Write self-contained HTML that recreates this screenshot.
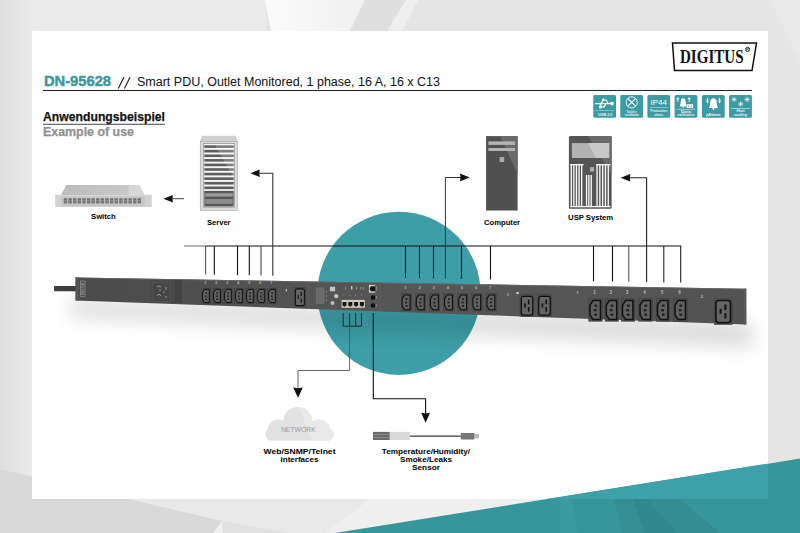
<!DOCTYPE html>
<html><head><meta charset="utf-8">
<style>
html,body{margin:0;padding:0;width:800px;height:533px;overflow:hidden;background:#e6e6e6;}
svg{display:block;position:absolute;left:0;top:0;}
.s{font-family:"Liberation Sans",sans-serif;}
.b{font-family:"Liberation Sans",sans-serif;font-weight:bold;}
.sf{font-family:"Liberation Serif",serif;font-weight:bold;}
</style></head>
<body>
<svg width="800" height="533" viewBox="0 0 800 533">
<defs>
  <linearGradient id="lg" x1="0" x2="1" y1="0" y2="0">
    <stop offset="0" stop-color="#dfdfdf"/>
    <stop offset="0.55" stop-color="#eaeaea"/>
    <stop offset="1" stop-color="#ebebeb" stop-opacity="0"/>
  </linearGradient>
  <linearGradient id="circ" x1="0" x2="0" y1="0" y2="1">
    <stop offset="0" stop-color="#3b9ca4"/>
    <stop offset="0.55" stop-color="#3b9ca4"/>
    <stop offset="0.62" stop-color="#348c94"/>
    <stop offset="1" stop-color="#40a3ab"/>
  </linearGradient>
  <linearGradient id="swtop" x1="0" x2="1" y1="0" y2="0">
    <stop offset="0" stop-color="#bcbcbc"/>
    <stop offset="0.8" stop-color="#c8c8c8"/>
    <stop offset="0.81" stop-color="#d6d6d6"/>
    <stop offset="1" stop-color="#d9d9d9"/>
  </linearGradient>
  <linearGradient id="wf" x1="0" x2="1" y1="0" y2="0">
    <stop offset="0" stop-color="#fbfbfb"/>
    <stop offset="1" stop-color="#f0f0f0"/>
  </linearGradient>
  <linearGradient id="pdug" gradientUnits="userSpaceOnUse" x1="75" y1="0" x2="746" y2="0">
    <stop offset="0" stop-color="#4a4a4a"/>
    <stop offset="0.2" stop-color="#505050"/>
    <stop offset="0.5" stop-color="#575757"/>
    <stop offset="1" stop-color="#535353"/>
  </linearGradient>
  <filter id="blur" x="-20%" y="-200%" width="140%" height="500%"><feGaussianBlur stdDeviation="10"/></filter>
  <filter id="blur2" x="-20%" y="-200%" width="140%" height="500%"><feGaussianBlur stdDeviation="2.5"/></filter>
</defs>

<rect x="0" y="0" width="800" height="533" fill="#e5e5e5"/>
<rect x="0" y="0" width="266" height="533" fill="#ebebeb"/>
<rect x="0" y="0" width="60" height="533" fill="url(#lg)"/>
<polygon points="265,0 365,0 350,31 271,31" fill="url(#wf)"/>
<polygon points="365,0 406,0 387,31 350,31" fill="#dfdfdf"/>
<polygon points="406,0 418,0 402,31 387,31" fill="#efefef"/>
<polygon points="770,0 800,0 800,62" fill="#e9e9e9"/>
<polygon points="0,469 0,533 800,533 800,499 130,499" fill="#e9e9e9"/>
<polygon points="370,499 800,499 800,533 325,533" fill="#efefef"/>
<polygon points="0,469 222,521 213.5,533 0,533" fill="#d9d9d9"/>
<polygon points="222,521 290,533 222.5,533" fill="#e1e1e1"/>
<polygon points="222,521 222.5,533 213.5,533" fill="#f0f0f0"/>
<rect x="32" y="31" width="736" height="468" fill="#ffffff"/>
<polygon points="335,533 800,458.6 800,533" fill="#36969c"/>
<polygon points="547.5,499 768,463.7 768,499" fill="#3ea1a9"/>
<polygon points="613.75,499 632.5,499 645,533 622.5,533" fill="#348f95"/>
<polygon points="632.5,499 647.5,499 677.5,533 645,533" fill="#30878d"/>
<polygon points="647.5,499 680,499 720,533 677.5,533" fill="#338d93"/>
<polygon points="560,499 571.25,499 577.5,533 560,533" fill="#3a9ba1"/>

<text class="b" x="44" y="86" font-size="14.5" fill="#3a98a1" stroke="#3a98a1" stroke-width="0.45" textLength="67" lengthAdjust="spacingAndGlyphs">DN-95628</text>
<g stroke="#111" stroke-width="1.05"><line x1="118.3" y1="88.6" x2="123.9" y2="77.3"/><line x1="124.4" y1="88.6" x2="130" y2="77.3"/></g>
<text class="s" x="137" y="86" font-size="12.5" fill="#111" textLength="303" lengthAdjust="spacingAndGlyphs">Smart PDU, Outlet Monitored, 1 phase, 16 A, 16 x C13</text>
<rect x="43" y="90" width="709" height="1" fill="#222"/>
<text class="b" x="43" y="120.5" font-size="13.5" fill="#111" stroke="#111" stroke-width="0.25" textLength="122" lengthAdjust="spacingAndGlyphs">Anwendungsbeispiel</text>
<rect x="43" y="123.8" width="122" height="0.9" fill="#333"/>
<text class="b" x="43" y="136" font-size="13.5" fill="#909090" stroke="#909090" stroke-width="0.25" textLength="91" lengthAdjust="spacingAndGlyphs">Example of use</text>

<polygon points="672.5,43 756.5,43 752,70.5 674.5,70.5" fill="#fff" stroke="#111" stroke-width="1.5"/>
<text class="sf" x="680" y="63" font-size="18.5" fill="#111" textLength="63.5" lengthAdjust="spacingAndGlyphs">DIGITUS</text>
<circle cx="747.6" cy="49.4" r="2.1" fill="#fff" stroke="#111" stroke-width="0.8"/><path d="M746.8,50.7 v-2.6 h1 q0.8,0 0.8,0.7 q0,0.6 -0.8,0.6 h-0.2 l1,1.3" fill="none" stroke="#111" stroke-width="0.6"/>

<g fill="#3b9ba2">
<rect x="593.3" y="95.1" width="22.8" height="22.6" rx="1.5"/>
<rect x="620.3" y="95.1" width="22.8" height="22.6" rx="1.5"/>
<rect x="647.4" y="95.1" width="22.8" height="22.6" rx="1.5"/>
<rect x="674.6" y="95.1" width="22.8" height="22.6" rx="1.5"/>
<rect x="701.9" y="95.1" width="22.8" height="22.6" rx="1.5"/>
<rect x="729.1" y="95.1" width="22.8" height="22.6" rx="1.5"/>
</g>
<g stroke="#fff" fill="none" stroke-width="1.3">
<line x1="595.0999999999999" y1="103.6" x2="611.3" y2="103.6"/>
<polyline points="600.8,103.6 603.0999999999999,100.2 606.3,100.2 608.3,103.6"/>
<polyline points="599.8,103.6 601.8,106.8 604.3,106.8 605.8,103.6"/>
</g>
<circle cx="612.0999999999999" cy="103.6" r="1.9" fill="#fff"/>
<circle cx="603.3" cy="99.7" r="1.2" fill="#fff"/>
<rect x="599.0999999999999" y="105.8" width="2.6" height="2.6" fill="#fff"/>
<rect x="595.3" y="110" width="19" height="0.5" fill="#bfe0e2"/>
<text class="b" x="605.3" y="115.6" font-size="4.2" fill="#e8f4f5" text-anchor="middle" textLength="14" lengthAdjust="spacingAndGlyphs">USB 2.0</text>

<circle cx="631.6999999999999" cy="102.4" r="5.6" fill="none" stroke="#fff" stroke-width="0.9"/>
<line x1="627.9" y1="98.6" x2="635.5" y2="106.2" stroke="#fff" stroke-width="1.1"/>
<line x1="635.5" y1="98.6" x2="627.9" y2="106.2" stroke="#fff" stroke-width="1.1"/>
<text class="b" x="631.6999999999999" y="112.6" font-size="3.2" fill="#e8f4f5" text-anchor="middle" textLength="10" lengthAdjust="spacingAndGlyphs">Tool-less</text>
<text class="b" x="631.6999999999999" y="116.4" font-size="3.2" fill="#e8f4f5" text-anchor="middle" textLength="14" lengthAdjust="spacingAndGlyphs">installation</text>

<text class="s" x="658.8" y="104.5" font-size="7.2" fill="#fff" text-anchor="middle" textLength="16.5" lengthAdjust="spacingAndGlyphs">IP44</text>
<rect x="649.9" y="107.2" width="18" height="0.5" fill="#cfe8ea"/>
<text class="b" x="658.8" y="111.8" font-size="3.4" fill="#e8f4f5" text-anchor="middle" textLength="17" lengthAdjust="spacingAndGlyphs">Protection</text>
<text class="b" x="658.8" y="115.8" font-size="3.4" fill="#e8f4f5" text-anchor="middle" textLength="9" lengthAdjust="spacingAndGlyphs">class</text>

<path d="M679.6,106.4 C680.4000000000001,105.2 680.7,103 680.8000000000001,101 C681.0,98.9 682.0,98.2 683.2,98.2 C684.4000000000001,98.2 685.4000000000001,98.9 685.6,101 C685.7,103 686.0,105.2 686.8000000000001,106.4 Z" fill="#fff"/>
<circle cx="683.2" cy="106.9" r="0.8" fill="#fff"/>
<rect x="686.6" y="104.2" width="6.6" height="3.8" rx="0.6" fill="#fff"/>
<circle cx="688.6" cy="106.1" r="0.7" fill="#3b9ba2"/><circle cx="691.2" cy="106.1" r="0.7" fill="#3b9ba2"/>
<path d="M677.9,102 V98.2 M676.8000000000001,99.3 L677.9,97.6 L679.0,99.3" fill="none" stroke="#fff" stroke-width="0.9"/>
<path d="M689.2,102 V98.2 M688.1,99.3 L689.2,97.6 L690.3000000000001,99.3" fill="none" stroke="#fff" stroke-width="0.9"/>
<rect x="676.8000000000001" y="108.9" width="18.5" height="0.6" fill="#e0f0f1"/>
<text class="b" x="686.0" y="112.6" font-size="3.2" fill="#e8f4f5" text-anchor="middle" textLength="10" lengthAdjust="spacingAndGlyphs">Data</text>
<text class="b" x="686.0" y="116.4" font-size="3.2" fill="#e8f4f5" text-anchor="middle" textLength="17" lengthAdjust="spacingAndGlyphs">notification</text>

<path d="M708.9,108 C709.9,106.6 710.2,104 710.4,101.6 C710.6,99.2 711.9,98.3 713.5,98.3 C715.1,98.3 716.4,99.2 716.6,101.6 C716.8,104 717.1,106.6 718.1,108 Z" fill="#fff"/>
<circle cx="713.5" cy="108.7" r="1" fill="#fff"/>
<path d="M707.7,103.6 C706.1,102.6 705.9,99.6 707.9,97.6 C708.5,99.8 708.9,101.8 707.7,103.6 Z" fill="#fff"/>
<path d="M719.3,103.6 C720.9,102.6 721.1,99.6 719.1,97.6 C718.5,99.8 718.1,101.8 719.3,103.6 Z" fill="#fff"/>
<text class="b" x="714.3" y="116.3" font-size="4.2" fill="#f0f8f8" text-anchor="middle" textLength="12.5" lengthAdjust="spacingAndGlyphs">Alarm</text>
<path d="M706.1999999999999,116.5 L707.1999999999999,113.8 L708.1999999999999,116.5" fill="none" stroke="#fff" stroke-width="0.7"/>

<g stroke="#fff" stroke-width="0.7">
<line x1="731.6" y1="99.5" x2="736.6" y2="99.5"/><line x1="734.1" y1="97" x2="734.1" y2="102"/><line x1="732.3000000000001" y1="97.7" x2="735.9" y2="101.3"/><line x1="735.9" y1="97.7" x2="732.3000000000001" y2="101.3"/>
<line x1="744.6" y1="99.5" x2="749.6" y2="99.5"/><line x1="747.1" y1="97" x2="747.1" y2="102"/><line x1="745.3000000000001" y1="97.7" x2="748.9" y2="101.3"/><line x1="748.9" y1="97.7" x2="745.3000000000001" y2="101.3"/>
<line x1="738.1" y1="104" x2="743.1" y2="104"/><line x1="740.6" y1="101.5" x2="740.6" y2="106.5"/><line x1="738.8000000000001" y1="102.2" x2="742.4" y2="105.8"/><line x1="742.4" y1="102.2" x2="738.8000000000001" y2="105.8"/>
</g>
<rect x="731.1" y="108.2" width="19" height="0.6" fill="#e0f0f1"/>
<text class="b" x="740.5" y="112.2" font-size="3.2" fill="#e8f4f5" text-anchor="middle" textLength="8" lengthAdjust="spacingAndGlyphs">Hot</text>
<text class="b" x="740.5" y="116" font-size="3.2" fill="#e8f4f5" text-anchor="middle" textLength="13" lengthAdjust="spacingAndGlyphs">cooling</text>

<circle cx="399" cy="293.3" r="81.6" fill="#3d9ea7"/>
<g stroke="#111" fill="none">
<line x1="205.5" y1="246" x2="681.2" y2="246" stroke-width="1.1"/>
<line x1="184" y1="246" x2="205.5" y2="246" stroke-width="1.1" stroke="#777"/>
<line x1="205.6" y1="246" x2="205.6" y2="274.6" stroke="#555" stroke-width="1.1"/>
<line x1="214.3" y1="246" x2="214.3" y2="274.7" stroke="#111" stroke-width="1.1"/>
<line x1="237.5" y1="246" x2="237.5" y2="275.1" stroke="#111" stroke-width="1.1"/>
<line x1="249.3" y1="246" x2="249.3" y2="275.3" stroke="#111" stroke-width="1.1"/>
<line x1="261" y1="246" x2="261" y2="275.5" stroke="#444" stroke-width="1.1"/>
<line x1="405.5" y1="246" x2="405.5" y2="278.0" stroke="#111" stroke-width="1.1"/>
<line x1="419.5" y1="246" x2="419.5" y2="278.2" stroke="#111" stroke-width="1.1"/>
<line x1="433.5" y1="246" x2="433.5" y2="278.5" stroke="#111" stroke-width="1.1"/>
<line x1="461.5" y1="246" x2="461.5" y2="278.9" stroke="#111" stroke-width="1.1"/>
<line x1="490.5" y1="246" x2="490.5" y2="279.4" stroke="#111" stroke-width="1.1"/>
<line x1="593.5" y1="246" x2="593.5" y2="281.2" stroke="#111" stroke-width="1.1"/>
<line x1="612.5" y1="246" x2="612.5" y2="281.5" stroke="#111" stroke-width="1.1"/>
<line x1="628.8" y1="246" x2="628.8" y2="281.8" stroke="#555" stroke-width="1.1"/>
<line x1="663.8" y1="246" x2="663.8" y2="282.4" stroke="#222" stroke-width="1.1"/>
<line x1="680.7" y1="246" x2="680.7" y2="282.6" stroke="#222" stroke-width="1.1"/>
<polyline points="272.8,275.7 272.8,173.3 259,173.3" stroke-width="1.1" stroke="#333"/>
<polyline points="445.4,278.7 445.4,177.5 461,177.5" stroke-width="1" stroke="#333"/>
<polyline points="646.6,282.1 646.6,177.7 629,177.7" stroke-width="1.1" stroke="#222"/>
<line x1="184" y1="198.7" x2="171" y2="198.7" stroke-width="1" stroke="#444"/>
<polyline points="343.2,313 343.2,326.2 361.5,326.2 361.5,313" stroke-width="0.9" stroke="#222"/>
<line x1="349.6" y1="313" x2="349.6" y2="326.2" stroke-width="0.9" stroke="#222"/>
<line x1="355.7" y1="313" x2="355.7" y2="326.2" stroke-width="0.9" stroke="#222"/>
<polyline points="349.6,326.5 349.6,370.5 298,370.5 298,389" stroke="#555" stroke-width="0.9"/>
<polyline points="373.3,313 373.3,398.7 425.6,398.7 425.6,414" stroke-width="1.1"/>
</g>
<g fill="#111">
<polygon points="250.5,173.3 259.8,169.5 259.3,173.3 259.8,177.1"/>
<polygon points="469.8,177.5 460,173.5 460.5,177.5 460,181.3"/>
<polygon points="620.6,177.7 630.3,174 629.8,177.7 630.3,181.5"/>
<polygon points="163.4,198.7 172.9,194.9 172.4,198.7 172.9,202.6"/>
<polygon points="298,397.8 293.2,387.5 298,388.2 302.8,387.5"/>
<polygon points="425.6,422.8 421.2,412.8 425.6,413.4 430,412.8"/>
</g>
<polygon points="66.2,185 139.4,185 144.9,195.2 61,195.2" fill="url(#swtop)"/>
<rect x="55.2" y="194.8" width="5.8" height="12.1" fill="#d2d2d2"/>
<rect x="144.9" y="194.8" width="6.8" height="12.1" fill="#d2d2d2"/>
<rect x="61" y="195.2" width="83.9" height="11.7" fill="#c6c6c6"/>
<rect x="61" y="195.2" width="83.9" height="1" fill="#dadada"/>

<rect x="63.75" y="198.3" width="3.4" height="5.1" fill="#707070"/>
<rect x="63.75" y="200.6" width="3.4" height="0.6" fill="#b0b0b0"/>
<rect x="68.37" y="198.3" width="3.4" height="5.1" fill="#707070"/>
<rect x="68.37" y="200.6" width="3.4" height="0.6" fill="#b0b0b0"/>
<rect x="72.99" y="198.3" width="3.4" height="5.1" fill="#707070"/>
<rect x="72.99" y="200.6" width="3.4" height="0.6" fill="#b0b0b0"/>
<rect x="77.61" y="198.3" width="3.4" height="5.1" fill="#707070"/>
<rect x="77.61" y="200.6" width="3.4" height="0.6" fill="#b0b0b0"/>
<rect x="82.23" y="198.3" width="3.4" height="5.1" fill="#707070"/>
<rect x="82.23" y="200.6" width="3.4" height="0.6" fill="#b0b0b0"/>
<rect x="86.85" y="198.3" width="3.4" height="5.1" fill="#707070"/>
<rect x="86.85" y="200.6" width="3.4" height="0.6" fill="#b0b0b0"/>
<rect x="91.47" y="198.3" width="3.4" height="5.1" fill="#707070"/>
<rect x="91.47" y="200.6" width="3.4" height="0.6" fill="#b0b0b0"/>
<rect x="96.09" y="198.3" width="3.4" height="5.1" fill="#707070"/>
<rect x="96.09" y="200.6" width="3.4" height="0.6" fill="#b0b0b0"/>
<rect x="100.71" y="198.3" width="3.4" height="5.1" fill="#707070"/>
<rect x="100.71" y="200.6" width="3.4" height="0.6" fill="#b0b0b0"/>
<rect x="105.33" y="198.3" width="3.4" height="5.1" fill="#707070"/>
<rect x="105.33" y="200.6" width="3.4" height="0.6" fill="#b0b0b0"/>
<rect x="109.95" y="198.3" width="3.4" height="5.1" fill="#707070"/>
<rect x="109.95" y="200.6" width="3.4" height="0.6" fill="#b0b0b0"/>
<rect x="114.57" y="198.3" width="3.4" height="5.1" fill="#707070"/>
<rect x="114.57" y="200.6" width="3.4" height="0.6" fill="#b0b0b0"/>
<rect x="119.19" y="198.3" width="3.4" height="5.1" fill="#707070"/>
<rect x="119.19" y="200.6" width="3.4" height="0.6" fill="#b0b0b0"/>
<rect x="123.81" y="198.3" width="3.4" height="5.1" fill="#707070"/>
<rect x="123.81" y="200.6" width="3.4" height="0.6" fill="#b0b0b0"/>
<rect x="128.43" y="198.3" width="3.4" height="5.1" fill="#707070"/>
<rect x="128.43" y="200.6" width="3.4" height="0.6" fill="#b0b0b0"/>
<rect x="133.05" y="198.3" width="3.4" height="5.1" fill="#707070"/>
<rect x="133.05" y="200.6" width="3.4" height="0.6" fill="#b0b0b0"/>
<rect x="137.67" y="198.3" width="3.4" height="5.1" fill="#707070"/>
<rect x="137.67" y="200.6" width="3.4" height="0.6" fill="#b0b0b0"/>
<text class="b" x="103.4" y="218.8" font-size="7.5" fill="#000" text-anchor="middle" textLength="24.7" lengthAdjust="spacingAndGlyphs">Switch</text>
<polygon points="201.9,135.8 235.7,135.8 237.7,141.5 200,141.5" fill="#d0d0d0"/>
<rect x="200.3" y="141.5" width="37" height="68.8" fill="#dcdcdc"/>
<rect x="200.3" y="141.5" width="37" height="68.8" fill="none" stroke="#aaa" stroke-width="0.7"/>
<rect x="203.4" y="143.6" width="31.2" height="63.6" fill="#f4f4f4" stroke="#8f8f8f" stroke-width="0.7"/>

<rect x="204.3" y="145.30" width="29.4" height="2.6" fill="#5e5e5e"/>
<rect x="204.3" y="149.88" width="29.4" height="2.6" fill="#5e5e5e"/>
<rect x="204.3" y="154.46" width="29.4" height="2.6" fill="#5e5e5e"/>
<rect x="204.3" y="159.04" width="29.4" height="2.6" fill="#5e5e5e"/>
<rect x="204.3" y="163.62" width="29.4" height="2.6" fill="#5e5e5e"/>
<rect x="204.3" y="168.20" width="29.4" height="2.6" fill="#5e5e5e"/>
<rect x="204.3" y="172.78" width="29.4" height="2.6" fill="#5e5e5e"/>
<rect x="204.3" y="177.36" width="29.4" height="2.6" fill="#5e5e5e"/>
<rect x="204.3" y="181.94" width="29.4" height="2.6" fill="#5e5e5e"/>
<rect x="204.3" y="186.52" width="29.4" height="2.6" fill="#5e5e5e"/>
<polygon points="215,145 233.7,145 233.7,178" fill="#fff" opacity="0.2"/>
<rect x="204.3" y="190.9" width="29.4" height="15.6" fill="#575757"/>
<rect x="205.3" y="193.2" width="27.4" height="3.4" fill="#9c9c9c"/>
<rect x="205.3" y="199" width="27.4" height="4.9" fill="#8c8c8c"/>

<text class="b" x="218.75" y="224.8" font-size="7.5" fill="#000" text-anchor="middle" textLength="23.7" lengthAdjust="spacingAndGlyphs">Server</text>
<rect x="486.1" y="136.1" width="31.5" height="74.4" fill="#505050"/>
<polygon points="500,136.1 517.6,136.1 517.6,173.7" fill="#6b6b6b"/>
<rect x="488.4" y="141.4" width="26.6" height="3.5" fill="#b3b3b3"/>
<rect x="488.4" y="148" width="26.6" height="3" fill="#b3b3b3"/>
<rect x="499.6" y="157" width="4.6" height="5" fill="#a8a8a8"/>

<text class="b" x="502.1" y="225" font-size="7.5" fill="#000" text-anchor="middle" textLength="36" lengthAdjust="spacingAndGlyphs">Computer</text>
<rect x="568.9" y="136.1" width="42.7" height="72.6" rx="1.5" fill="#555"/>
<polygon points="588,136.1 611.6,136.1 611.6,175" fill="#6a6a6a"/>
<rect x="571.9" y="143.1" width="37.3" height="14.9" fill="#b3b3b3"/>
<polygon points="588,143.1 609.2,143.1 609.2,158 596,158" fill="#c8c8c8"/>
<rect x="589.9" y="167.2" width="4.2" height="4.4" fill="#aaa"/>

<rect x="570.60" y="164.1" width="1.3" height="43.1" fill="#fff"/>
<rect x="573.20" y="164.1" width="1.3" height="43.1" fill="#fff"/>
<rect x="575.80" y="164.1" width="1.3" height="43.1" fill="#fff"/>
<rect x="578.40" y="164.1" width="1.3" height="43.1" fill="#fff"/>
<rect x="581.00" y="164.1" width="1.3" height="43.1" fill="#fff"/>
<rect x="596.40" y="164.1" width="1.3" height="43.1" fill="#fff"/>
<rect x="599.20" y="164.1" width="1.3" height="43.1" fill="#fff"/>
<rect x="602.00" y="164.1" width="1.3" height="43.1" fill="#fff"/>
<rect x="604.80" y="164.1" width="1.3" height="43.1" fill="#fff"/>
<rect x="607.60" y="164.1" width="1.3" height="43.1" fill="#fff"/>
<rect x="585.90" y="175" width="1.3" height="32.2" fill="#fff"/>
<rect x="588.23" y="175" width="1.3" height="32.2" fill="#fff"/>
<rect x="590.57" y="175" width="1.3" height="32.2" fill="#fff"/>
<rect x="570.1" y="164.1" width="13.5" height="1.2" fill="#fff"/><rect x="596.4" y="164.1" width="14" height="1.2" fill="#fff"/><rect x="570.1" y="206" width="40.3" height="1.2" fill="#fff"/>
<text class="b" x="590.6" y="220.25" font-size="7.5" fill="#000" text-anchor="middle" textLength="45" lengthAdjust="spacingAndGlyphs">USP System</text>
<polygon points="70,300 750,323 755,346 70,316" fill="#000" opacity="0.16" filter="url(#blur)"/>
<rect x="54" y="286" width="24" height="5.3" rx="1" fill="#3e3e3e"/>
<polygon points="75.6,277.4 746.25,288.75 746.25,324.5 75.6,300.6" fill="url(#pdug)"/>
<polygon points="75.6,277.4 746.25,288.75 746.25,289.6 75.6,278.2" fill="#6a6a6a"/>
<polygon points="75.6,277.4 79,277.45 79,300.7 75.6,300.6" fill="#555"/>
<polygon points="743.5,288.7 746.25,288.75 746.25,324.5 743.5,324.4" fill="#5a5a5a"/>
<rect x="80.6" y="281" width="4.4" height="15.4" fill="none" stroke="#9a9a9a" stroke-width="0.6"/>
<text class="b" x="0" y="0" font-size="3.4" fill="#aaa" text-anchor="middle" textLength="12" lengthAdjust="spacingAndGlyphs" transform="translate(84.1 288.7) rotate(-90)">DIGITUS</text>
<rect x="150.4" y="279.8" width="31.6" height="22.9" fill="#4a4a4a"/>
<rect x="152.9" y="282.6" width="17.1" height="18.6" fill="#464646" stroke="#5a5a5a" stroke-width="0.5"/>
<rect x="174.8" y="280" width="7.2" height="22.7" fill="#424242"/>
<g stroke="#bbb" stroke-width="0.7" fill="none"><path d="M157,287 q2,-2 4,0 M160,289 v2 M157,296 l2,-2 l2,2 M163,292 h2 M166,287 v3 M166,296 v2"/></g>
<rect x="308.5" y="282.3" width="0.8" height="26.6" fill="#626262"/>
<rect x="315.25" y="287" width="9.75" height="17.25" fill="#6b6b6b" stroke="#4a4a4a" stroke-width="0.5"/>
<rect x="329.9" y="286.8" width="5.2" height="4.5" fill="#c4c4c4"/><circle cx="336.25" cy="296.1" r="2.2" fill="#c4c4c4"/><circle cx="332.5" cy="302.9" r="2" fill="#bdbdbd"/>
<g fill="#9a9a9a"><rect x="326.2" y="291" width="0.7" height="2"/><rect x="326.2" y="295" width="0.7" height="2"/><rect x="326.2" y="299" width="0.7" height="2"/>
<rect x="345" y="287" width="0.8" height="2.5"/><rect x="351" y="286" width="1.4" height="3.5" fill="#c0c0c0"/><rect x="356" y="287" width="1" height="2.5"/><rect x="360.5" y="287" width="0.8" height="2.5"/><rect x="363" y="287" width="0.8" height="2.5"/>
<rect x="343.5" y="294" width="0.7" height="1.5"/><rect x="349.5" y="294.5" width="0.7" height="1.5"/><rect x="355" y="294.5" width="0.7" height="1.5"/><rect x="361" y="294" width="0.7" height="1.5"/></g>
<rect x="341.6" y="299.9" width="23.2" height="7.9" fill="#d2cdc4"/>
<path d="M342.50,302.1 h4 v3.6 h-1 v0.9 h-2 v-0.9 h-1 z" fill="#161616"/>
<path d="M348.30,302.1 h4 v3.6 h-1 v0.9 h-2 v-0.9 h-1 z" fill="#161616"/>
<rect x="347.20" y="299.9" width="0.4" height="7.9" fill="#aaa59c"/>
<path d="M354.10,302.1 h4 v3.6 h-1 v0.9 h-2 v-0.9 h-1 z" fill="#161616"/>
<rect x="353.00" y="299.9" width="0.4" height="7.9" fill="#aaa59c"/>
<path d="M359.90,302.1 h4 v3.6 h-1 v0.9 h-2 v-0.9 h-1 z" fill="#161616"/>
<rect x="358.80" y="299.9" width="0.4" height="7.9" fill="#aaa59c"/>
<rect x="368.9" y="284.9" width="6.2" height="7.85" fill="#cfcac2"/><path d="M370.6,286.3 h4.5 v5 h-4.5 v-1.3 h-0.8 v-2.4 h0.8 z" fill="#111"/>
<circle cx="373" cy="297.6" r="2.3" fill="#111"/><circle cx="373" cy="305.5" r="2.3" fill="#111"/>
<rect x="375.8" y="296" width="0.8" height="3" fill="#aaa"/><rect x="375.8" y="304" width="0.8" height="3" fill="#999"/><rect x="376.3" y="286" width="0.8" height="5" fill="#999"/>
<rect x="380.3" y="283.6" width="0.7" height="27.9" fill="#606060"/>
<rect x="201.70" y="288.30" width="8.80" height="15.40" fill="#4c4c4c" stroke="#3e3e3e" stroke-width="0.5"/><path d="M204.58,289.42 H209.30 V302.58 H204.58 L202.55,299.29 V292.71 Z" fill="#5f5f5f" stroke="#111" stroke-width="1.00" stroke-linejoin="round"/><rect x="205.38" y="292.31" width="1.76" height="1.39" fill="#1a1a1a"/><rect x="204.98" y="295.47" width="1.76" height="1.39" fill="#1a1a1a"/><rect x="205.38" y="298.50" width="1.76" height="1.39" fill="#1a1a1a"/>
<rect x="212.70" y="288.30" width="8.80" height="15.40" fill="#4c4c4c" stroke="#3e3e3e" stroke-width="0.5"/><path d="M215.58,289.42 H220.30 V302.58 H215.58 L213.55,299.29 V292.71 Z" fill="#5f5f5f" stroke="#111" stroke-width="1.00" stroke-linejoin="round"/><rect x="216.38" y="292.31" width="1.76" height="1.39" fill="#1a1a1a"/><rect x="215.98" y="295.47" width="1.76" height="1.39" fill="#1a1a1a"/><rect x="216.38" y="298.50" width="1.76" height="1.39" fill="#1a1a1a"/>
<rect x="223.70" y="288.30" width="8.80" height="15.40" fill="#4c4c4c" stroke="#3e3e3e" stroke-width="0.5"/><path d="M226.58,289.42 H231.30 V302.58 H226.58 L224.55,299.29 V292.71 Z" fill="#5f5f5f" stroke="#111" stroke-width="1.00" stroke-linejoin="round"/><rect x="227.38" y="292.31" width="1.76" height="1.39" fill="#1a1a1a"/><rect x="226.98" y="295.47" width="1.76" height="1.39" fill="#1a1a1a"/><rect x="227.38" y="298.50" width="1.76" height="1.39" fill="#1a1a1a"/>
<rect x="234.70" y="288.30" width="8.80" height="15.40" fill="#4c4c4c" stroke="#3e3e3e" stroke-width="0.5"/><path d="M237.58,289.42 H242.30 V302.58 H237.58 L235.55,299.29 V292.71 Z" fill="#5f5f5f" stroke="#111" stroke-width="1.00" stroke-linejoin="round"/><rect x="238.38" y="292.31" width="1.76" height="1.39" fill="#1a1a1a"/><rect x="237.98" y="295.47" width="1.76" height="1.39" fill="#1a1a1a"/><rect x="238.38" y="298.50" width="1.76" height="1.39" fill="#1a1a1a"/>
<rect x="245.70" y="288.30" width="8.80" height="15.40" fill="#4c4c4c" stroke="#3e3e3e" stroke-width="0.5"/><path d="M248.58,289.42 H253.30 V302.58 H248.58 L246.55,299.29 V292.71 Z" fill="#5f5f5f" stroke="#111" stroke-width="1.00" stroke-linejoin="round"/><rect x="249.38" y="292.31" width="1.76" height="1.39" fill="#1a1a1a"/><rect x="248.98" y="295.47" width="1.76" height="1.39" fill="#1a1a1a"/><rect x="249.38" y="298.50" width="1.76" height="1.39" fill="#1a1a1a"/>
<rect x="256.70" y="288.30" width="8.80" height="15.40" fill="#4c4c4c" stroke="#3e3e3e" stroke-width="0.5"/><path d="M259.58,289.42 H264.30 V302.58 H259.58 L257.55,299.29 V292.71 Z" fill="#5f5f5f" stroke="#111" stroke-width="1.00" stroke-linejoin="round"/><rect x="260.38" y="292.31" width="1.76" height="1.39" fill="#1a1a1a"/><rect x="259.98" y="295.47" width="1.76" height="1.39" fill="#1a1a1a"/><rect x="260.38" y="298.50" width="1.76" height="1.39" fill="#1a1a1a"/>
<rect x="267.70" y="288.30" width="8.80" height="15.40" fill="#4c4c4c" stroke="#3e3e3e" stroke-width="0.5"/><path d="M270.58,289.42 H275.30 V302.58 H270.58 L268.55,299.29 V292.71 Z" fill="#5f5f5f" stroke="#111" stroke-width="1.00" stroke-linejoin="round"/><rect x="271.38" y="292.31" width="1.76" height="1.39" fill="#1a1a1a"/><rect x="270.98" y="295.47" width="1.76" height="1.39" fill="#1a1a1a"/><rect x="271.38" y="298.50" width="1.76" height="1.39" fill="#1a1a1a"/>
<rect x="294.25" y="287.50" width="11.25" height="19.50" fill="#535353" stroke="#404040" stroke-width="0.6"/><rect x="295.36" y="288.83" width="9.03" height="16.84" rx="1.62" fill="#646464" stroke="#111" stroke-width="1.10"/><rect x="297.62" y="295.23" width="1.26" height="3.70" fill="#151515"/><rect x="300.60" y="291.86" width="1.26" height="4.21" fill="#151515"/><rect x="300.60" y="298.43" width="1.26" height="4.21" fill="#151515"/>
<rect x="401.25" y="293.70" width="10.20" height="17.30" fill="#4c4c4c" stroke="#3e3e3e" stroke-width="0.5"/><path d="M404.58,294.95 H410.07 V309.75 H404.58 L402.22,306.05 V298.65 Z" fill="#5f5f5f" stroke="#111" stroke-width="1.12" stroke-linejoin="round"/><rect x="405.52" y="298.21" width="2.04" height="1.56" fill="#1a1a1a"/><rect x="405.05" y="301.76" width="2.04" height="1.56" fill="#1a1a1a"/><rect x="405.52" y="305.16" width="2.04" height="1.56" fill="#1a1a1a"/>
<rect x="415.38" y="293.70" width="10.20" height="17.30" fill="#4c4c4c" stroke="#3e3e3e" stroke-width="0.5"/><path d="M418.70,294.95 H424.20 V309.75 H418.70 L416.34,306.05 V298.65 Z" fill="#5f5f5f" stroke="#111" stroke-width="1.12" stroke-linejoin="round"/><rect x="419.64" y="298.21" width="2.04" height="1.56" fill="#1a1a1a"/><rect x="419.17" y="301.76" width="2.04" height="1.56" fill="#1a1a1a"/><rect x="419.64" y="305.16" width="2.04" height="1.56" fill="#1a1a1a"/>
<rect x="429.50" y="293.70" width="10.20" height="17.30" fill="#4c4c4c" stroke="#3e3e3e" stroke-width="0.5"/><path d="M432.83,294.95 H438.32 V309.75 H432.83 L430.47,306.05 V298.65 Z" fill="#5f5f5f" stroke="#111" stroke-width="1.12" stroke-linejoin="round"/><rect x="433.77" y="298.21" width="2.04" height="1.56" fill="#1a1a1a"/><rect x="433.30" y="301.76" width="2.04" height="1.56" fill="#1a1a1a"/><rect x="433.77" y="305.16" width="2.04" height="1.56" fill="#1a1a1a"/>
<rect x="443.62" y="293.70" width="10.20" height="17.30" fill="#4c4c4c" stroke="#3e3e3e" stroke-width="0.5"/><path d="M446.95,294.95 H452.45 V309.75 H446.95 L444.59,306.05 V298.65 Z" fill="#5f5f5f" stroke="#111" stroke-width="1.12" stroke-linejoin="round"/><rect x="447.89" y="298.21" width="2.04" height="1.56" fill="#1a1a1a"/><rect x="447.42" y="301.76" width="2.04" height="1.56" fill="#1a1a1a"/><rect x="447.89" y="305.16" width="2.04" height="1.56" fill="#1a1a1a"/>
<rect x="457.75" y="293.70" width="10.20" height="17.30" fill="#4c4c4c" stroke="#3e3e3e" stroke-width="0.5"/><path d="M461.08,294.95 H466.57 V309.75 H461.08 L458.72,306.05 V298.65 Z" fill="#5f5f5f" stroke="#111" stroke-width="1.12" stroke-linejoin="round"/><rect x="462.02" y="298.21" width="2.04" height="1.56" fill="#1a1a1a"/><rect x="461.55" y="301.76" width="2.04" height="1.56" fill="#1a1a1a"/><rect x="462.02" y="305.16" width="2.04" height="1.56" fill="#1a1a1a"/>
<rect x="471.88" y="293.70" width="10.20" height="17.30" fill="#4c4c4c" stroke="#3e3e3e" stroke-width="0.5"/><path d="M475.20,294.95 H480.70 V309.75 H475.20 L472.84,306.05 V298.65 Z" fill="#5f5f5f" stroke="#111" stroke-width="1.12" stroke-linejoin="round"/><rect x="476.14" y="298.21" width="2.04" height="1.56" fill="#1a1a1a"/><rect x="475.67" y="301.76" width="2.04" height="1.56" fill="#1a1a1a"/><rect x="476.14" y="305.16" width="2.04" height="1.56" fill="#1a1a1a"/>
<rect x="486.00" y="293.70" width="10.20" height="17.30" fill="#4c4c4c" stroke="#3e3e3e" stroke-width="0.5"/><path d="M489.33,294.95 H494.82 V309.75 H489.33 L486.97,306.05 V298.65 Z" fill="#5f5f5f" stroke="#111" stroke-width="1.12" stroke-linejoin="round"/><rect x="490.27" y="298.21" width="2.04" height="1.56" fill="#1a1a1a"/><rect x="489.80" y="301.76" width="2.04" height="1.56" fill="#1a1a1a"/><rect x="490.27" y="305.16" width="2.04" height="1.56" fill="#1a1a1a"/>
<rect x="520.00" y="294.80" width="14.00" height="21.80" fill="#535353" stroke="#404040" stroke-width="0.6"/><rect x="521.33" y="296.30" width="11.34" height="18.80" rx="2.04" fill="#646464" stroke="#111" stroke-width="1.26"/><rect x="524.17" y="303.44" width="1.59" height="4.14" fill="#151515"/><rect x="527.91" y="299.69" width="1.59" height="4.70" fill="#151515"/><rect x="527.91" y="307.02" width="1.59" height="4.70" fill="#151515"/>
<rect x="537.40" y="294.80" width="14.20" height="21.80" fill="#535353" stroke="#404040" stroke-width="0.6"/><rect x="538.75" y="296.31" width="11.50" height="18.78" rx="2.07" fill="#646464" stroke="#111" stroke-width="1.28"/><rect x="541.62" y="303.45" width="1.61" height="4.13" fill="#151515"/><rect x="545.42" y="299.69" width="1.61" height="4.69" fill="#151515"/><rect x="545.42" y="307.01" width="1.61" height="4.69" fill="#151515"/>
<rect x="588.75" y="298.75" width="13.50" height="22.50" fill="#4c4c4c" stroke="#3e3e3e" stroke-width="0.5"/><path d="M593.15,300.39 H600.43 V319.61 H593.15 L590.03,314.80 V305.20 Z" fill="#5f5f5f" stroke="#111" stroke-width="1.49" stroke-linejoin="round"/><rect x="594.40" y="304.62" width="2.70" height="2.02" fill="#1a1a1a"/><rect x="593.77" y="309.23" width="2.70" height="2.02" fill="#1a1a1a"/><rect x="594.40" y="313.65" width="2.70" height="2.02" fill="#1a1a1a"/>
<rect x="605.00" y="298.75" width="13.50" height="22.50" fill="#4c4c4c" stroke="#3e3e3e" stroke-width="0.5"/><path d="M609.40,300.39 H616.68 V319.61 H609.40 L606.28,314.80 V305.20 Z" fill="#5f5f5f" stroke="#111" stroke-width="1.49" stroke-linejoin="round"/><rect x="610.65" y="304.62" width="2.70" height="2.02" fill="#1a1a1a"/><rect x="610.02" y="309.23" width="2.70" height="2.02" fill="#1a1a1a"/><rect x="610.65" y="313.65" width="2.70" height="2.02" fill="#1a1a1a"/>
<rect x="621.25" y="298.75" width="13.50" height="22.50" fill="#4c4c4c" stroke="#3e3e3e" stroke-width="0.5"/><path d="M625.65,300.39 H632.93 V319.61 H625.65 L622.53,314.80 V305.20 Z" fill="#5f5f5f" stroke="#111" stroke-width="1.49" stroke-linejoin="round"/><rect x="626.90" y="304.62" width="2.70" height="2.02" fill="#1a1a1a"/><rect x="626.27" y="309.23" width="2.70" height="2.02" fill="#1a1a1a"/><rect x="626.90" y="313.65" width="2.70" height="2.02" fill="#1a1a1a"/>
<rect x="638.75" y="298.75" width="13.50" height="22.50" fill="#4c4c4c" stroke="#3e3e3e" stroke-width="0.5"/><path d="M643.15,300.39 H650.43 V319.61 H643.15 L640.03,314.80 V305.20 Z" fill="#5f5f5f" stroke="#111" stroke-width="1.49" stroke-linejoin="round"/><rect x="644.40" y="304.62" width="2.70" height="2.02" fill="#1a1a1a"/><rect x="643.77" y="309.23" width="2.70" height="2.02" fill="#1a1a1a"/><rect x="644.40" y="313.65" width="2.70" height="2.02" fill="#1a1a1a"/>
<rect x="656.25" y="298.75" width="13.50" height="22.50" fill="#4c4c4c" stroke="#3e3e3e" stroke-width="0.5"/><path d="M660.65,300.39 H667.93 V319.61 H660.65 L657.53,314.80 V305.20 Z" fill="#5f5f5f" stroke="#111" stroke-width="1.49" stroke-linejoin="round"/><rect x="661.90" y="304.62" width="2.70" height="2.02" fill="#1a1a1a"/><rect x="661.27" y="309.23" width="2.70" height="2.02" fill="#1a1a1a"/><rect x="661.90" y="313.65" width="2.70" height="2.02" fill="#1a1a1a"/>
<rect x="673.75" y="298.75" width="13.50" height="22.50" fill="#4c4c4c" stroke="#3e3e3e" stroke-width="0.5"/><path d="M678.15,300.39 H685.43 V319.61 H678.15 L675.03,314.80 V305.20 Z" fill="#5f5f5f" stroke="#111" stroke-width="1.49" stroke-linejoin="round"/><rect x="679.40" y="304.62" width="2.70" height="2.02" fill="#1a1a1a"/><rect x="678.77" y="309.23" width="2.70" height="2.02" fill="#1a1a1a"/><rect x="679.40" y="313.65" width="2.70" height="2.02" fill="#1a1a1a"/>
<rect x="714.25" y="298.70" width="18.00" height="25.80" fill="#535353" stroke="#404040" stroke-width="0.6"/><rect x="715.96" y="300.54" width="14.58" height="22.12" rx="2.62" fill="#646464" stroke="#111" stroke-width="1.62"/><rect x="719.60" y="308.95" width="2.04" height="4.87" fill="#151515"/><rect x="724.42" y="304.52" width="2.04" height="5.53" fill="#151515"/><rect x="724.42" y="313.15" width="2.04" height="5.53" fill="#151515"/>
<g fill="#b8b8b8" class="b" font-size="4" text-anchor="middle">
<text x="205.30" y="284" font-size="3.6">1</text>
<text x="216.30" y="284" font-size="3.6">2</text>
<text x="227.30" y="284" font-size="3.6">3</text>
<text x="238.30" y="284" font-size="3.6">4</text>
<text x="249.30" y="284" font-size="3.6">5</text>
<text x="260.30" y="284" font-size="3.6">6</text>
<text x="271.30" y="284" font-size="3.6">7</text>
<text x="405.45" y="289" font-size="4">1</text>
<text x="419.57" y="289" font-size="4">2</text>
<text x="433.70" y="289" font-size="4">3</text>
<text x="447.82" y="289" font-size="4">4</text>
<text x="461.95" y="289" font-size="4">5</text>
<text x="476.07" y="289" font-size="4">6</text>
<text x="490.20" y="289" font-size="4">7</text>
<text x="594.55" y="294" font-size="4.6">1</text>
<text x="610.80" y="294" font-size="4.6">2</text>
<text x="627.05" y="294" font-size="4.6">3</text>
<text x="644.55" y="294" font-size="4.6">4</text>
<text x="662.05" y="294" font-size="4.6">5</text>
<text x="679.55" y="294" font-size="4.6">6</text>
<text x="577.5" y="293.5" font-size="4.4">1</text><text x="702" y="298" font-size="4.4">2</text><text x="508" y="296" font-size="4.4">1</text>
</g>
<rect x="285.8" y="289" width="1" height="2.5" fill="#ddd"/><rect x="516.5" y="292" width="2" height="2" fill="#ddd"/>
<defs><clipPath id="cl">
<circle cx="297.8" cy="421.5" r="14.6"/>
<circle cx="278" cy="430" r="10.5"/>
<circle cx="319.5" cy="430" r="10.5"/>
<circle cx="271.5" cy="434.5" r="6.2"/>
<circle cx="327.5" cy="434.5" r="6.2"/>
<rect x="271.5" y="430" width="56" height="10.6"/>
</clipPath></defs>
<g clip-path="url(#cl)">
<rect x="260" y="400" width="80" height="45" fill="#e2e2e2"/>
<polygon points="296,400 340,400 340,445 314,445" fill="#e9e9e9"/>
</g>

<text class="s" x="298.3" y="431.6" font-size="6.4" fill="#9a9a9a" text-anchor="middle" textLength="34.8" lengthAdjust="spacingAndGlyphs">NETWORK</text>
<text class="b" x="299.5" y="453.5" font-size="7.1" fill="#000" text-anchor="middle" textLength="72" lengthAdjust="spacingAndGlyphs">Web/SNMP/Telnet</text>
<text class="b" x="299.5" y="462" font-size="7.1" fill="#000" text-anchor="middle" textLength="38" lengthAdjust="spacingAndGlyphs">interfaces</text>
<rect x="373" y="431.9" width="16.8" height="8.1" fill="#6a6a6a"/>
<rect x="374" y="434" width="15" height="0.7" fill="#999"/>
<rect x="374" y="437" width="15" height="0.7" fill="#999"/>
<rect x="389.8" y="431.9" width="20.1" height="8.1" fill="#d8d8d8"/>
<rect x="409.9" y="435.4" width="50.7" height="1.6" fill="#666"/>
<rect x="460.6" y="433" width="14" height="6.4" rx="1" fill="#777"/>
<rect x="474.6" y="434" width="4.4" height="4.4" fill="#bbb"/>

<text class="b" x="426" y="453.9" font-size="7.1" fill="#000" text-anchor="middle" textLength="88.3" lengthAdjust="spacingAndGlyphs">Temperature/Humidity/</text>
<text class="b" x="426" y="462" font-size="7.1" fill="#000" text-anchor="middle" textLength="52" lengthAdjust="spacingAndGlyphs">Smoke/Leaks</text>
<text class="b" x="426" y="470" font-size="7.1" fill="#000" text-anchor="middle" textLength="28" lengthAdjust="spacingAndGlyphs">Sensor</text>
</svg>
</body></html>
